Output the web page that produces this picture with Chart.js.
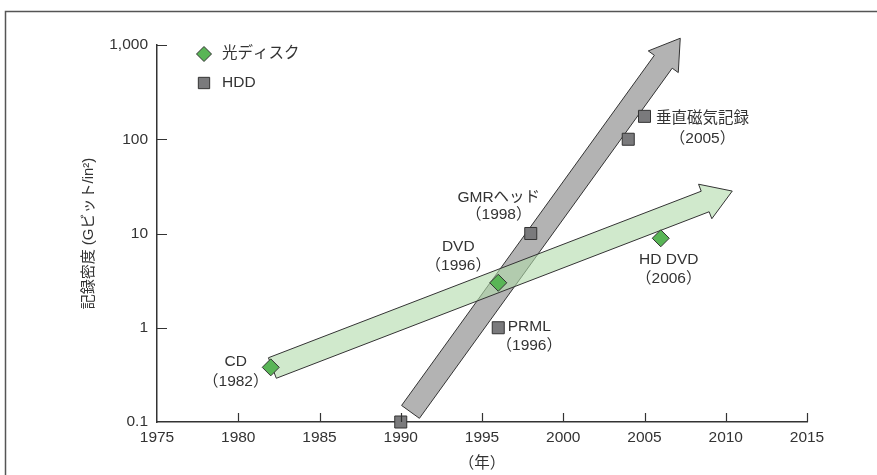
<!DOCTYPE html>
<html><head><meta charset="utf-8">
<script src="https://cdn.jsdelivr.net/npm/chart.js@4.4.0/dist/chart.umd.min.js"></script>
<style>html,body{margin:0;padding:0;background:#fff}#wrap{width:877px;height:475px;position:relative}</style>
</head><body><div id="wrap"><canvas id="c" width="877" height="475"></canvas></div>
<script>
// ---- data ----
const seriesNames = ['光ディスク', 'HDD'];
const opticalYears = [1982, 1996, 2006];
const opticalValues = [0.38, 3, 8.9];
const opticalNotes = [['CD', '（1982）'], ['DVD', '（1996）'], ['HD DVD', '（2006）']];
const hddYears = [1990, 1996, 1998, 2004, 2005];
const hddValues = [0.1, 1, 10, 100, 175];
const hddNotes = [null, ['PRML', '（1996）'], ['GMRヘッド', '（1998）'], null, ['垂直磁気記録', '（2005）']];
const yTickValues = [0.1, 1, 10, 100, 1000];
const yTickLabels = ['0.1', '1', '10', '100', '1,000'];
const xTickValues = [1975, 1980, 1985, 1990, 1995, 2000, 2005, 2010, 2015];
const opticalTrend = [[1982.1, 0.374], [2010.4, 28.2]];
const hddTrend = [[1990.6, 0.128], [2007.2, 1180]];
const xTitle = '（年）';
const yTitle = '記録密度 (Gビット/in²)';

// ---- styles (pixel offsets for note text, centred) ----
const opticalNoteOffsets = [[-35, -6, 14], [-40, -36, -17], [8, 21, 40]];
const hddNoteOffsets = [null, [31, -1, 18], [-32, -36, -19], null, [58, 2, 22]];

const FONT = '"Liberation Sans", Arial, "Noto Sans CJK JP", sans-serif';
const TXT = '#333';
const FS = 15.5;
Chart.defaults.font.family = FONT;
Chart.defaults.font.size = FS;
Chart.defaults.color = TXT;

function drawArrow(ctx, x1, y1, x2, y2, shaftW, headW, headL) {
  const dx = x2 - x1, dy = y2 - y1, L = Math.hypot(dx, dy);
  const ux = dx / L, uy = dy / L, nx = -uy, ny = ux;
  const bx = x2 - ux * headL, by = y2 - uy * headL;
  const p = [
    [x1 + nx * shaftW / 2, y1 + ny * shaftW / 2],
    [bx + nx * shaftW / 2, by + ny * shaftW / 2],
    [bx + nx * headW / 2, by + ny * headW / 2],
    [x2, y2],
    [bx - nx * headW / 2, by - ny * headW / 2],
    [bx - nx * shaftW / 2, by - ny * shaftW / 2],
    [x1 - nx * shaftW / 2, y1 - ny * shaftW / 2]
  ];
  ctx.beginPath();
  ctx.moveTo(p[0][0], p[0][1]);
  for (let i = 1; i < p.length; i++) ctx.lineTo(p[i][0], p[i][1]);
  ctx.closePath();
  ctx.fill();
  ctx.stroke();
}

const decorPlugin = {
  id: 'decor',
  beforeDraw(chart) {
    const ctx = chart.ctx;
    ctx.save();
    ctx.strokeStyle = '#555';
    ctx.lineWidth = 1.5;
    ctx.strokeRect(5.5, 11.5, 1000, 1000);
    ctx.restore();
  },
  beforeDatasetsDraw(chart) {
    const ctx = chart.ctx, xs = chart.scales.x, ys = chart.scales.y;
    const px = p => [xs.getPixelForValue(p[0]), ys.getPixelForValue(p[1])];
    ctx.save();
    ctx.lineWidth = 1;
    ctx.strokeStyle = '#333';
    ctx.lineJoin = 'miter';
    let a = px(hddTrend[0]), b = px(hddTrend[1]);
    ctx.fillStyle = '#b3b3b3';
    drawArrow(ctx, a[0], a[1], b[0], b[1], 22, 37, 29);
    a = px(opticalTrend[0]); b = px(opticalTrend[1]);
    ctx.fillStyle = 'rgba(176,218,170,0.6)';
    drawArrow(ctx, a[0], a[1], b[0], b[1], 22, 37, 29);
    ctx.restore();
  },
  afterDatasetsDraw(chart) {
    const ctx = chart.ctx, xs = chart.scales.x, ys = chart.scales.y;
    const ca = chart.chartArea;
    ctx.save();
    // inward ticks
    ctx.strokeStyle = '#333';
    ctx.lineWidth = 1.2;
    ctx.beginPath();
    yTickValues.forEach(v => {
      if (v === ys.min) return;
      const y = Math.round(ys.getPixelForValue(v)) + 0.5;
      ctx.moveTo(ca.left, y); ctx.lineTo(ca.left + 10, y);
    });
    xTickValues.forEach(v => {
      if (v === xs.min) return;
      const x = Math.round(xs.getPixelForValue(v)) + 0.5;
      ctx.moveTo(x, ca.bottom); ctx.lineTo(x, ca.bottom - 9);
    });
    ctx.stroke();
    // notes
    ctx.fillStyle = TXT;
    ctx.font = FS + 'px ' + FONT;
    ctx.textAlign = 'center';
    ctx.textBaseline = 'middle';
    const note = (xv, yv, lines, off) => {
      const x = xs.getPixelForValue(xv), y = ys.getPixelForValue(yv);
      ctx.fillText(lines[0], x + off[0], y + off[1]);
      ctx.fillText(lines[1], x + off[0], y + off[2]);
    };
    opticalNotes.forEach((n, i) => { if (n) note(opticalYears[i], opticalValues[i], n, opticalNoteOffsets[i]); });
    hddNotes.forEach((n, i) => { if (n) note(hddYears[i], hddValues[i], n, hddNoteOffsets[i]); });
    // legend
    const ds = chart.data.datasets;
    const rows = [[204, 54], [204, 83]];
    ds.forEach((d, i) => {
      ctx.fillStyle = d.backgroundColor;
      ctx.strokeStyle = d.borderColor;
      ctx.lineWidth = 1;
      Chart.helpers.drawPoint(ctx, { pointStyle: d.pointStyle, radius: i === 0 ? 7.5 : 8, rotation: 0, borderWidth: 1 }, rows[i][0], rows[i][1]);
      ctx.fillStyle = TXT;
      ctx.textAlign = 'left';
      ctx.fillText(seriesNames[i], rows[i][0] + 18, rows[i][1]);
    });
    ctx.restore();
  }
};

const chart = new Chart(document.getElementById('c'), {
  type: 'scatter',
  data: {
    datasets: [
      {
        label: seriesNames[0],
        data: opticalYears.map((x, i) => ({ x, y: opticalValues[i] })),
        pointStyle: 'rectRot', pointRadius: 8.5,
        backgroundColor: '#59b556', borderColor: '#333', borderWidth: 1,
        clip: false
      },
      {
        label: seriesNames[1],
        data: hddYears.map((x, i) => ({ x, y: hddValues[i] })),
        pointStyle: 'rect', pointRadius: 8.5,
        backgroundColor: '#7a7a7c', borderColor: '#333', borderWidth: 1,
        clip: false
      }
    ]
  },
  options: {
    responsive: false,
    animation: false,
    events: [],
    layout: { padding: { top: 45, right: 70, left: 0, bottom: 0 } },
    plugins: { legend: { display: false }, tooltip: { enabled: false } },
    scales: {
      x: {
        type: 'linear', min: 1975, max: 2015,
        afterBuildTicks: s => { s.ticks = xTickValues.map(v => ({ value: v })); },
        afterFit: s => { s.height = 53; },
        ticks: { padding: 6, color: TXT, font: { size: FS }, callback: v => String(v) },
        grid: { drawOnChartArea: false, drawTicks: false },
        border: { display: true, color: '#333', width: 1.5 },
        title: { display: true, text: xTitle, color: TXT, font: { size: FS }, padding: { top: 0, bottom: 2 } }
      },
      y: {
        type: 'logarithmic', min: 0.1, max: 1000,
        afterBuildTicks: s => { s.ticks = yTickValues.map(v => ({ value: v })); },
        afterFit: s => { s.width = 157; },
        ticks: { padding: 9, color: TXT, font: { size: FS }, callback: v => yTickLabels[yTickValues.indexOf(v)] },
        grid: { drawOnChartArea: false, drawTicks: false },
        border: { display: true, color: '#333', width: 1.5 },
        title: { display: true, text: yTitle, color: TXT, font: { size: 15 }, padding: { top: 80, bottom: 0 } }
      }
    }
  },
  plugins: [decorPlugin]
});
</script>
</body></html>
